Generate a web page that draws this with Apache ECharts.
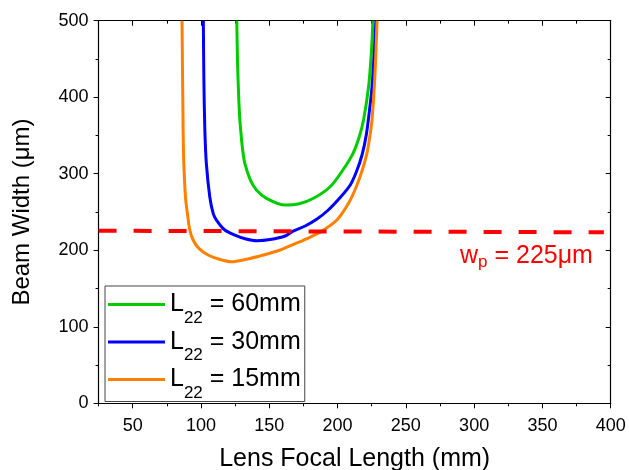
<!DOCTYPE html>
<html><head><meta charset="utf-8">
<script src="https://cdn.jsdelivr.net/npm/echarts@6/dist/echarts.min.js"></script>
<style>html,body{margin:0;padding:0;background:#fff}#c{width:629px;height:470px}</style>
</head><body><div id="c"></div>
<script>
// ---- data ----
const xTickValues = [50, 100, 150, 200, 250, 300, 350, 400];
const seriesNames = ['L22 = 60mm', 'L22 = 30mm', 'L22 = 15mm'];

const greenF = [126.2,126.7,127.5,128.3,129.4,130.5,132.1,136.1,140.6,147.9,161.6,171.9,182.4,194.6,203.9,211.3,215.9,219.0,222.7,224.7,225.9];
const greenW = [500,448.6,405.0,374.0,350.0,331.0,313.6,292.0,278.7,267.9,259.1,260.7,267.9,283.0,304.9,326.7,348.4,370.2,413.7,457.3,500];

const blueF = [101.7,102.1,102.8,103.9,106.4,108.9,111.3,117.4,124.8,132.3,140.9,150.6,161.6,167.5,176.3,184.9,193.2,201.9,209.3,213.7,217.9,221.0,223.2,225.2,226.9,228.1];
const blueW = [500,422.5,357.1,313.6,270.0,248.3,239.5,226.5,219.9,215.1,212.5,214.0,218.6,225.1,231.7,240.8,252.6,268.9,285.3,302.2,324.5,350.6,380.6,413.3,459.0,500];

const orangeF = [86.1,86.9,87.4,88.6,90.0,91.8,94.2,98.4,105.2,114.0,122.3,132.3,145.7,158.0,170.2,180.0,188.0,199.5,208.0,213.7,218.1,221.5,223.6,225.2,226.9,228.0,228.9];
const orangeW = [500,357.1,313.6,270.0,248.3,226.5,213.4,202.5,193.8,187.9,185.0,187.9,193.8,200.3,209.5,217.3,224.5,239.5,261.3,283.0,304.9,326.7,348.4,370.2,413.7,455.1,500];

const refF = [25, 395];
const refW = [225.5, 223.5];

const colors = ['#00cc00', '#0000ff', '#ff8000'];

function zip(a, b) { return a.map((v, i) => [v, b[i]]); }

const chart = echarts.init(document.getElementById('c'), null, {renderer: 'canvas'});
const FONT = 'Liberation Sans, Arial, sans-serif';
const axisLineStyle = {color: '#000', width: 1.2};

const option = {
  animation: false,
  backgroundColor: '#fff',
  textStyle: {fontFamily: FONT},
  grid: {left: 98.6, right: 18.3, top: 20.7, bottom: 66.7, containLabel: false, outerBoundsMode: 'none'},
  xAxis: [
    { // bottom, minor ticks + labels
      type: 'value', position: 'bottom', min: 25, max: 400, interval: 25,
      axisLine: {show: true, onZero: false, lineStyle: axisLineStyle},
      axisTick: {show: true, inside: false, length: 3, lineStyle: {color: '#000', width: 1}},
      axisLabel: {show: true, customValues: xTickValues, color: '#000', fontSize: 18, fontFamily: FONT, margin: 14},
      splitLine: {show: false},
      name: 'Lens Focal Length (mm)', nameLocation: 'middle', nameGap: 43,
      nameTextStyle: {color: '#000', fontSize: 25, fontFamily: FONT}
    },
    { // bottom, major ticks
      type: 'value', position: 'bottom', min: 25, max: 400,
      axisLine: {show: false, onZero: false},
      axisTick: {show: true, inside: false, length: 5, customValues: xTickValues, lineStyle: {color: '#000', width: 1}},
      axisLabel: {show: false}, splitLine: {show: false}
    },
    { // top, minor ticks
      type: 'value', position: 'top', min: 25, max: 400, interval: 25,
      axisLine: {show: true, onZero: false, lineStyle: axisLineStyle},
      axisTick: {show: true, inside: true, length: 3, lineStyle: {color: '#000', width: 1}},
      axisLabel: {show: false}, splitLine: {show: false}
    },
    { // top, major ticks
      type: 'value', position: 'top', min: 25, max: 400,
      axisLine: {show: false, onZero: false},
      axisTick: {show: true, inside: true, length: 5, customValues: xTickValues, lineStyle: {color: '#000', width: 1}},
      axisLabel: {show: false}, splitLine: {show: false}
    }
  ],
  yAxis: [
    {
      type: 'value', position: 'left', min: 0, max: 500, interval: 100,
      axisLine: {show: true, onZero: false, lineStyle: axisLineStyle},
      axisTick: {show: true, inside: false, length: 5, lineStyle: {color: '#000', width: 1}},
      minorTick: {show: true, splitNumber: 2, length: 3, lineStyle: {color: '#000', width: 1}},
      axisLabel: {color: '#000', fontSize: 18, fontFamily: FONT, margin: 10},
      splitLine: {show: false}, minorSplitLine: {show: false},
      name: 'Beam Width (μm)', nameLocation: 'middle', nameGap: 64, nameRotate: 90,
      nameTextStyle: {color: '#000', fontSize: 24, fontFamily: FONT}
    },
    {
      type: 'value', position: 'right', min: 0, max: 500, interval: 100,
      axisLine: {show: true, onZero: false, lineStyle: axisLineStyle},
      axisTick: {show: true, inside: true, length: 5, lineStyle: {color: '#000', width: 1}},
      minorTick: {show: true, splitNumber: 2, length: 3, lineStyle: {color: '#000', width: 1}},
      axisLabel: {show: false}, splitLine: {show: false}, minorSplitLine: {show: false}
    }
  ],
  legend: {
    orient: 'vertical', left: 105, top: 286,
    borderColor: '#444', borderWidth: 1, borderRadius: 0,
    padding: [4, 4, 0, 3], itemGap: 1, itemWidth: 57, itemHeight: 3,
    icon: 'rect',
    data: seriesNames,
    formatter: function (name) { const p = name.split('22'); return p[0] + '{s|22}' + p[1]; },
    textStyle: {
      color: '#000', fontSize: 25, fontFamily: FONT, lineHeight: 29,
      rich: {s: {fontSize: 17, fontFamily: FONT, color: '#000', lineHeight: 29, height: 1, padding: [27, 0, 0, 0]}}
    }
  },
  series: [
    {name: seriesNames[0], type: 'line', data: zip(greenF, greenW), showSymbol: false, symbol: 'none', smooth: 0.3,
     lineStyle: {color: colors[0], width: 3}, itemStyle: {color: colors[0]}, clip: true, z: 3},
    {name: seriesNames[1], type: 'line', data: zip(blueF, blueW), showSymbol: false, symbol: 'none', smooth: 0.3,
     lineStyle: {color: colors[1], width: 3}, itemStyle: {color: colors[1]}, clip: true, z: 4},
    {name: seriesNames[2], type: 'line', data: zip(orangeF, orangeW), showSymbol: false, symbol: 'none', smooth: 0.3,
     lineStyle: {color: colors[2], width: 3}, itemStyle: {color: colors[2]}, clip: true, z: 5},
    {name: 'wp', type: 'line', data: zip(refF, refW), showSymbol: false, symbol: 'none',
     lineStyle: {color: '#ff0000', width: 4, type: [18, 17]}, clip: true, z: 6}
  ],
  graphic: [{
    type: 'text', left: 460, top: 244, z: 10,
    style: {
      text: 'w{p|p} = 225μm', fill: '#ff0000', fontSize: 25, fontFamily: FONT,
      rich: {p: {fontSize: 17, fontFamily: FONT, fill: '#ff0000', padding: [12, 0, 0, 0]}}
    }
  }]
};
chart.setOption(option);
</script>
</body></html>
